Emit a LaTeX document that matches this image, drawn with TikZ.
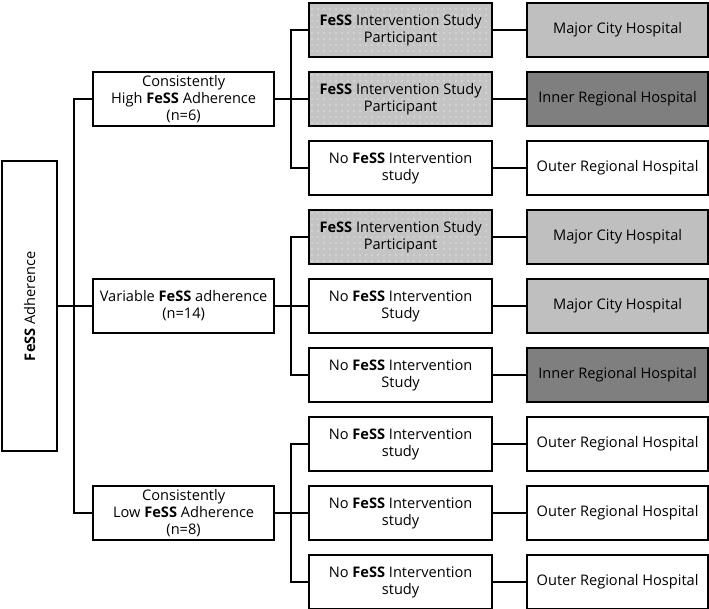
\documentclass[tikz,border=0pt]{standalone}
\usepackage{fontspec}
\setmainfont{Open Sans}
\usetikzlibrary{patterns.meta}
\definecolor{lightg}{HTML}{BFBFBF}
\definecolor{darkg}{HTML}{7F7F7F}
\definecolor{dotg}{HTML}{C4C4C4}
\newcommand{\fs}{\textbf{FeSS}}
\begin{document}
\begin{tikzpicture}[x=1pt,y=-1pt,
  box/.style={draw, line width=2.2pt, inner sep=0pt, align=center, anchor=north west,
    minimum height=54pt, font=\fontsize{14.6}{17}\selectfont},
  lvone/.style={box, minimum width=181pt},
  lvtwo/.style={box, minimum width=183pt},
  lvthree/.style={box, minimum width=181pt},
  dotted box/.style={preaction={fill=dotg}, preaction={pattern={Dots[distance=6pt,radius=0.6pt]}, pattern color=white}},
  light/.style={fill=lightg},
  dark/.style={fill=darkg},
  conn/.style={line width=2pt}]
\useasboundingbox (0,0) rectangle (709,609);
% root
\node[box, minimum width=55pt, minimum height=290pt] (root) at (1,160) {};
\node[rotate=90, font=\fontsize{14.6}{17}\selectfont] (rootlabel) at (root.center) {\fs{} Adherence};
% level 1
\node[lvone] (h) at (92,71) {Consistently\\High \fs{} Adherence\\(n=6)};
\node[lvone] (v) at (92,278) {Variable \fs{} adherence\\(n=14)};
\node[lvone] (l) at (92,485) {Consistently\\Low \fs{} Adherence\\(n=8)};
% level 2
\node[lvtwo, dotted box] (p1) at (308,2) {\fs{} Intervention Study\\Participant};
\node[lvtwo, dotted box] (p2) at (308,71) {\fs{} Intervention Study\\Participant};
\node[lvtwo] (p3) at (308,140) {No \fs{} Intervention\\study};
\node[lvtwo, dotted box] (p4) at (308,209) {\fs{} Intervention Study\\Participant};
\node[lvtwo] (p5) at (308,278) {No \fs{} Intervention\\Study};
\node[lvtwo] (p6) at (308,347) {No \fs{} Intervention\\Study};
\node[lvtwo] (p7) at (308,416) {No \fs{} Intervention\\study};
\node[lvtwo] (p8) at (308,485) {No \fs{} Intervention\\study};
\node[lvtwo] (p9) at (308,554) {No \fs{} Intervention\\study};
% level 3
\node[lvthree, light] (q1) at (526,2) {Major City Hospital};
\node[lvthree, dark] (q2) at (526,71) {Inner Regional Hospital};
\node[lvthree] (q3) at (526,140) {Outer Regional Hospital};
\node[lvthree, light] (q4) at (526,209) {Major City Hospital};
\node[lvthree, light] (q5) at (526,278) {Major City Hospital};
\node[lvthree, dark] (q6) at (526,347) {Inner Regional Hospital};
\node[lvthree] (q7) at (526,416) {Outer Regional Hospital};
\node[lvthree] (q8) at (526,485) {Outer Regional Hospital};
\node[lvthree] (q9) at (526,554) {Outer Regional Hospital};
% connectors
\draw[conn] (root.east) -- (v.west);
\draw[conn] (h.west) -- ++(-18,0) |- (l.west);
\draw[conn] (h.east) -- (p2.west);
\draw[conn] (p1.west) -- ++(-17,0) |- (p3.west);
\draw[conn] (v.east) -- (p5.west);
\draw[conn] (p4.west) -- ++(-17,0) |- (p6.west);
\draw[conn] (l.east) -- (p8.west);
\draw[conn] (p7.west) -- ++(-17,0) |- (p9.west);
\foreach \i in {1,...,9} {\draw[conn] (p\i.east) -- (q\i.west);}
\end{tikzpicture}
\end{document}
